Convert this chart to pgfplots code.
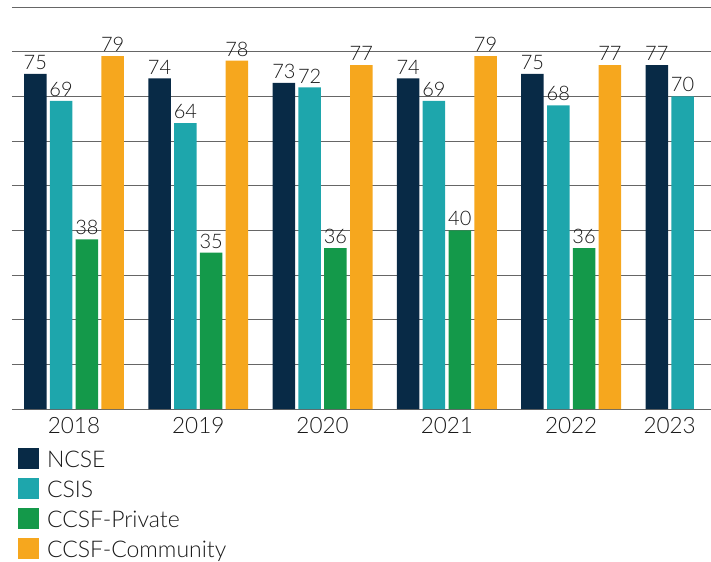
\documentclass[border=0pt]{standalone}
\usepackage{fontspec}
\setmainfont{Lato}[UprightFont={* Light}]
\usepackage{pgfplots}
\pgfplotsset{compat=1.18}
\definecolor{ncse}{RGB}{8,42,70}
\definecolor{csis}{RGB}{30,166,172}
\definecolor{priv}{RGB}{20,153,74}
\definecolor{comm}{RGB}{246,167,30}
\pgfplotsset{
  mybar/.style={ybar, bar width=22.5, bar shift=0pt, draw=none, fill=#1,
    legend image code/.code={\fill[#1] (0pt,-10pt) rectangle (21pt,11pt);}},
}
\begin{document}
\begin{tikzpicture}
\begin{axis}[
  x=1pt, y=4.4667pt,
  xmin=12, xmax=711, ymin=0, ymax=90,
  clip=false,
  /pgf/number format/assume math mode=true,
  axis line style={draw=none},
  ytick={10,20,...,90}, yticklabels={},
  ymajorgrids,
  major grid style={draw=black!60, line width=0.9pt},
  extra y ticks={0}, extra y tick labels={},
  extra y tick style={grid style={draw=black!40, line width=1.8pt}},
  xtick={73.95,198.25,322.55,446.85,571.15,669.65},
  xticklabels={2018,2019,2020,2021,2022,2023},
  major tick length=0pt,
  xticklabel style={anchor=north, inner sep=0pt, yshift=-8pt, font=\fontsize{22.5}{24}\selectfont, text=black!90},
  nodes near coords,
  every node near coord/.append style={font=\fontsize{20}{21}\selectfont, inner sep=0pt, yshift=4pt, text=black!90},
  legend style={draw=none, fill=none, inner sep=0pt, outer sep=0pt,
    at={(axis cs:18,-8.8)}, anchor=north west,
    row sep=8.5pt, column sep=8pt,
    font=\fontsize{23}{24}\selectfont,
    nodes={inner sep=0pt, text height=19pt, text depth=2pt, text=black!90}},
  legend cell align=left,
]
\addplot[mybar=ncse] coordinates {(35.25,75) (159.55,74) (283.85,73) (408.15,74) (532.45,75) (656.75,77)};
\addlegendentry{NCSE}
\addplot[mybar=csis] coordinates {(61.05,69) (185.35,64) (309.65,72) (433.95,69) (558.25,68) (682.55,70)};
\addlegendentry{CSIS}
\addplot[mybar=priv] coordinates {(86.85,38) (211.15,35) (335.45,36) (459.75,40) (584.05,36)};
\addlegendentry{CCSF-Private}
\addplot[mybar=comm] coordinates {(112.65,79) (236.95,78) (361.25,77) (485.55,79) (609.85,77)};
\addlegendentry{CCSF-Community}
\coordinate (bl) at (axis cs:0,-34.03);
\coordinate (tr) at (axis cs:711,91.567);
\end{axis}
\pgfresetboundingbox
\useasboundingbox (bl) rectangle (tr);
\end{tikzpicture}
\end{document}
